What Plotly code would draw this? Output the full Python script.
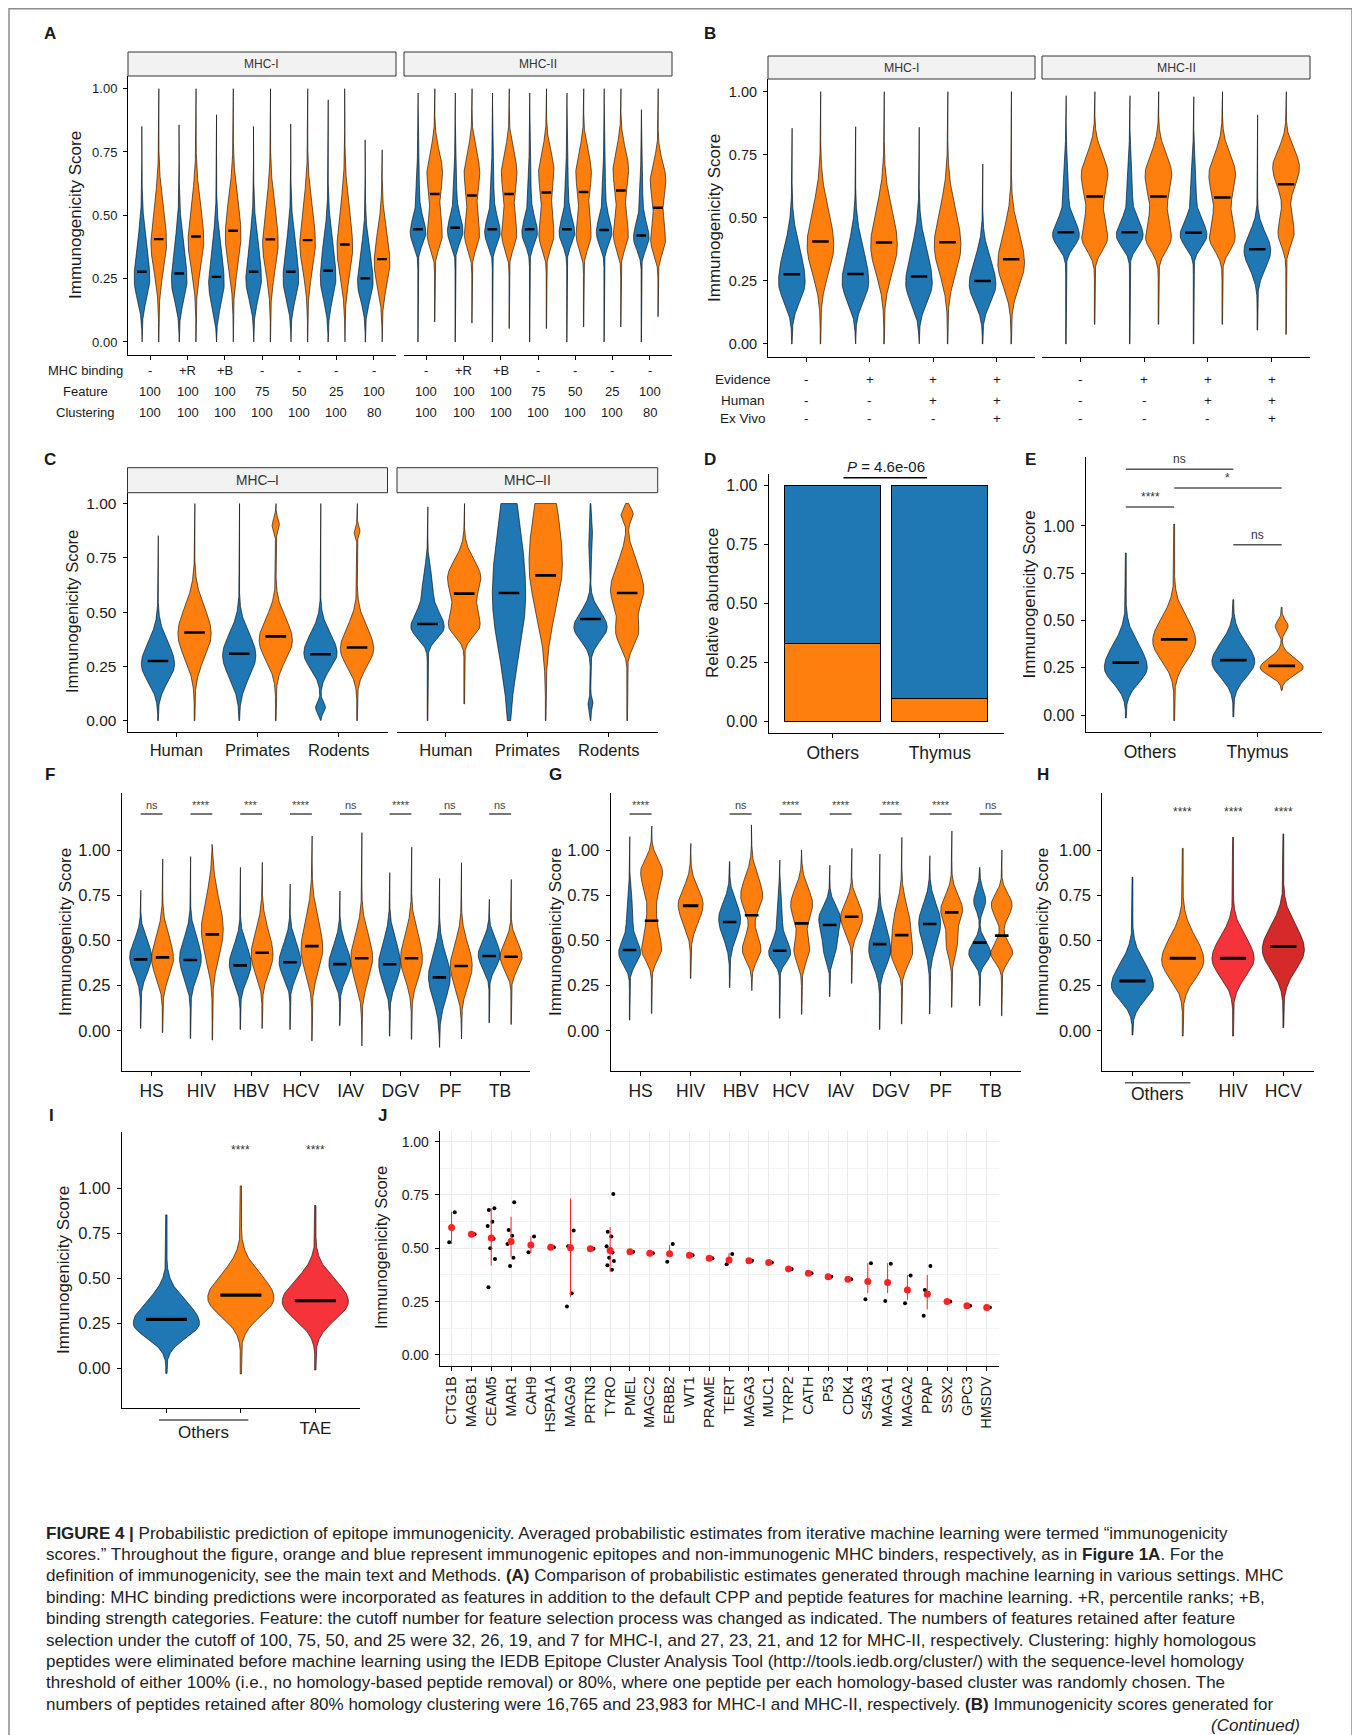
import numpy as np
import plotly.graph_objects as go

# page geometry (the browser body adds an 8px margin; the figure is offset accordingly)
PAGE_W, PAGE_H = 1360, 1735
OX, OY = 8, 8
FW, FH = PAGE_W - OX, PAGE_H - OY
FONT = "Liberation Sans, Arial, Helvetica, sans-serif"
TXT = "#1a1a1a"
BLUE, ORANGE, RED, DRED = "#1F77B4", "#FF7F0E", "#F5333B", "#D42A2A"

# ====================== DATA ======================
# Panel A: settings tables
A_MHC_BINDING = ["-", "+R", "+B", "-", "-", "-", "-"]
A_FEATURE = ["100", "100", "100", "75", "50", "25", "100"]
A_CLUSTERING = ["100", "100", "100", "100", "100", "100", "80"]
# violin specs: (min, max, median, density components (mode, sd_low, sd_high, weight))
A1_BLUE = [
    (0.0, 0.851, 0.277, [(0.245, 0.075, 0.14, 1)]),
    (0.0, 0.857, 0.270, [(0.24, 0.075, 0.14, 1)]),
    (0.0, 0.897, 0.257, [(0.23, 0.08, 0.14, 1)]),
    (0.0, 0.851, 0.277, [(0.245, 0.075, 0.14, 1)]),
    (0.0, 0.861, 0.277, [(0.245, 0.075, 0.14, 1)]),
    (0.0, 0.956, 0.281, [(0.25, 0.08, 0.14, 1)]),
    (0.0, 0.798, 0.251, [(0.235, 0.07, 0.12, 1)]),
]
A1_ORANGE = [
    (0.0, 1.0, 0.406, [(0.39, 0.11, 0.14, 1)]),
    (0.0, 1.0, 0.416, [(0.40, 0.11, 0.14, 1)]),
    (0.0, 1.0, 0.439, [(0.42, 0.12, 0.14, 1)]),
    (0.0, 1.0, 0.405, [(0.39, 0.11, 0.14, 1)]),
    (0.0, 1.0, 0.402, [(0.39, 0.11, 0.14, 1)]),
    (0.0, 1.0, 0.385, [(0.37, 0.11, 0.15, 1)]),
    (0.0, 0.759, 0.327, [(0.31, 0.09, 0.12, 1)]),
]
A2_BLUE = [
    (0.0, 0.983, 0.445, [(0.43, 0.045, 0.06, 1), (0.60, 0.08, 0.10, 0.18)]),
    (0.0, 0.983, 0.451, [(0.435, 0.045, 0.06, 1), (0.60, 0.08, 0.10, 0.18)]),
    (0.0, 0.983, 0.445, [(0.43, 0.045, 0.06, 1), (0.60, 0.08, 0.10, 0.18)]),
    (0.0, 0.983, 0.445, [(0.43, 0.045, 0.06, 1), (0.60, 0.08, 0.10, 0.18)]),
    (0.0, 0.983, 0.445, [(0.43, 0.045, 0.06, 1), (0.60, 0.08, 0.10, 0.18)]),
    (0.0, 1.0, 0.442, [(0.43, 0.045, 0.06, 1), (0.60, 0.08, 0.10, 0.18)]),
    (0.0, 0.917, 0.420, [(0.41, 0.045, 0.06, 1), (0.58, 0.08, 0.09, 0.18)]),
]
A2_ORANGE = [
    (0.079, 1.0, 0.584, [(0.42, 0.05, 0.08, 0.95), (0.67, 0.09, 0.08, 1.0)]),
    (0.075, 1.0, 0.578, [(0.42, 0.05, 0.08, 0.95), (0.67, 0.09, 0.08, 1.0)]),
    (0.053, 1.0, 0.584, [(0.42, 0.05, 0.08, 0.95), (0.67, 0.09, 0.08, 1.0)]),
    (0.053, 1.0, 0.590, [(0.42, 0.05, 0.08, 0.95), (0.67, 0.09, 0.08, 1.0)]),
    (0.059, 1.0, 0.592, [(0.42, 0.05, 0.08, 0.95), (0.67, 0.09, 0.08, 1.0)]),
    (0.059, 1.0, 0.598, [(0.42, 0.05, 0.08, 0.95), (0.68, 0.09, 0.08, 1.0)]),
    (0.100, 1.0, 0.530, [(0.40, 0.05, 0.08, 0.95), (0.64, 0.08, 0.07, 1.0)]),
]

# Panel B
B_EVIDENCE = ["-", "+", "+", "+"]
B_HUMAN = ["-", "-", "+", "+"]
B_EXVIVO = ["-", "-", "-", "+"]
B1_BLUE = [
    (0.0, 0.855, 0.276, [(0.245, 0.075, 0.13, 1)]),
    (0.0, 0.861, 0.277, [(0.245, 0.075, 0.13, 1)]),
    (0.0, 0.859, 0.267, [(0.24, 0.075, 0.13, 1)]),
    (0.0, 0.713, 0.250, [(0.235, 0.07, 0.10, 1)]),
]
B1_ORANGE = [
    (0.0, 1.0, 0.406, [(0.39, 0.11, 0.14, 1)]),
    (0.0, 1.0, 0.402, [(0.39, 0.11, 0.14, 1)]),
    (0.0, 1.0, 0.403, [(0.39, 0.11, 0.14, 1)]),
    (0.0, 1.0, 0.336, [(0.32, 0.09, 0.12, 1)]),
]
B2_BLUE = [
    (0.0, 0.984, 0.443, [(0.43, 0.045, 0.06, 1), (0.62, 0.08, 0.10, 0.2)]),
    (0.0, 0.984, 0.443, [(0.43, 0.045, 0.06, 1), (0.62, 0.08, 0.10, 0.2)]),
    (0.0, 0.980, 0.441, [(0.43, 0.045, 0.06, 1), (0.62, 0.08, 0.10, 0.2)]),
    (0.055, 0.908, 0.375, [(0.37, 0.07, 0.07, 1)]),
]
B2_ORANGE = [
    (0.078, 1.0, 0.584, [(0.42, 0.05, 0.08, 0.95), (0.67, 0.09, 0.08, 1.0)]),
    (0.078, 1.0, 0.584, [(0.42, 0.05, 0.08, 0.95), (0.67, 0.09, 0.08, 1.0)]),
    (0.078, 1.0, 0.580, [(0.42, 0.05, 0.08, 0.95), (0.67, 0.09, 0.08, 1.0)]),
    (0.038, 1.0, 0.633, [(0.44, 0.05, 0.07, 0.6), (0.70, 0.08, 0.07, 1.0)]),
]

# Panel C
C_SPECIES = ["Human", "Primates", "Rodents"]
C1_BLUE = [
    (0.0, 0.852, 0.275, [(0.26, 0.08, 0.10, 1)]),
    (0.0, 1.0, 0.308, [(0.30, 0.10, 0.10, 1)]),
    (0.0, 1.0, 0.306, [(0.31, 0.07, 0.09, 1), (0.06, 0.025, 0.025, 0.3)]),
]
C1_ORANGE = [
    (0.0, 1.0, 0.406, [(0.40, 0.11, 0.12, 1)]),
    (0.0, 1.0, 0.388, [(0.37, 0.09, 0.10, 1), (0.90, 0.03, 0.03, 0.22)]),
    (0.0, 1.0, 0.337, [(0.33, 0.08, 0.10, 1), (0.87, 0.02, 0.02, 0.18)]),
]
C2_BLUE = [
    (0.0, 0.985, 0.445, [(0.43, 0.05, 0.07, 1), (0.62, 0.08, 0.08, 0.3)]),
    (0.0, 1.0, 0.588, [(0.58, 0.27, 0.35, 1)]),
    (0.0, 1.0, 0.468, [(0.43, 0.06, 0.07, 1), (0.08, 0.025, 0.025, 0.15), (0.85, 0.08, 0.08, 0.12)]),
]
C2_ORANGE = [
    (0.077, 1.0, 0.585, [(0.44, 0.05, 0.08, 0.95), (0.66, 0.08, 0.08, 1)]),
    (0.0, 1.0, 0.669, [(0.72, 0.21, 0.30, 1)]),
    (0.0, 1.0, 0.588, [(0.60, 0.09, 0.12, 1), (0.40, 0.06, 0.06, 0.6), (0.95, 0.03, 0.03, 0.35)]),
]

# Panel D
D_GROUPS = ["Others", "Thymus"]
D_IMMUNOGENIC = [0.330, 0.096]
D_NONIMMUNOGENIC = [0.670, 0.904]
D_PVALUE = "4.6e-06"

# Panel E
E_GROUPS = ["Others", "Thymus"]
E_BLUE = [
    (-0.016, 0.857, 0.277, [(0.25, 0.08, 0.12, 1)]),
    (-0.010, 0.610, 0.290, [(0.28, 0.08, 0.10, 1)]),
]
E_ORANGE = [
    (-0.030, 1.010, 0.400, [(0.39, 0.10, 0.12, 1)]),
    (0.130, 0.570, 0.260, [(0.25, 0.04, 0.05, 1), (0.47, 0.03, 0.03, 0.3)]),
]
E_SIG_LABELS = ["ns", "*", "****", "ns"]
E_SIG_FROM = [0.775, 1.225, 0.775, 1.775]
E_SIG_TO = [1.775, 2.225, 1.225, 2.225]
E_SIG_Y = [1.30, 1.20, 1.10, 0.90]

# Panel F / G
PATHOGENS = ["HS", "HIV", "HBV", "HCV", "IAV", "DGV", "PF", "TB"]
F_BLUE = [
    (0.013, 0.780, 0.396, [(0.41, 0.09, 0.09, 1)]),
    (-0.043, 0.967, 0.393, [(0.40, 0.10, 0.11, 1)]),
    (0.007, 0.907, 0.363, [(0.37, 0.09, 0.10, 1)]),
    (0.007, 0.815, 0.380, [(0.38, 0.08, 0.10, 1)]),
    (0.028, 0.776, 0.370, [(0.37, 0.08, 0.10, 1)]),
    (-0.030, 0.878, 0.369, [(0.37, 0.10, 0.12, 1)]),
    (-0.093, 0.846, 0.296, [(0.30, 0.12, 0.12, 1)]),
    (0.044, 0.730, 0.415, [(0.42, 0.07, 0.08, 1)]),
]
F_ORANGE = [
    (-0.011, 0.954, 0.407, [(0.40, 0.10, 0.12, 1)]),
    (-0.052, 1.035, 0.535, [(0.56, 0.15, 0.17, 1)]),
    (0.013, 0.935, 0.433, [(0.42, 0.10, 0.13, 1)]),
    (-0.056, 1.081, 0.470, [(0.45, 0.12, 0.16, 1)]),
    (-0.085, 1.100, 0.402, [(0.40, 0.12, 0.13, 1)]),
    (-0.048, 1.019, 0.402, [(0.40, 0.11, 0.13, 1)]),
    (-0.046, 0.933, 0.359, [(0.36, 0.11, 0.12, 1)]),
    (0.035, 0.840, 0.411, [(0.41, 0.07, 0.08, 1)]),
]
F_SIG = ["ns", "****", "***", "****", "ns", "****", "ns", "ns"]
G_BLUE = [
    (0.059, 1.078, 0.448, [(0.43, 0.06, 0.07, 1), (0.65, 0.10, 0.10, 0.3)]),
    None,
    (0.239, 0.939, 0.604, [(0.62, 0.10, 0.09, 1)]),
    (0.069, 0.948, 0.444, [(0.43, 0.05, 0.07, 1), (0.65, 0.10, 0.10, 0.25)]),
    (0.189, 0.919, 0.587, [(0.62, 0.08, 0.07, 1), (0.45, 0.06, 0.06, 0.5)]),
    (0.007, 0.981, 0.481, [(0.45, 0.09, 0.12, 1)]),
    (0.093, 0.972, 0.593, [(0.60, 0.12, 0.10, 1)]),
    (0.139, 0.907, 0.489, [(0.43, 0.05, 0.06, 1), (0.72, 0.05, 0.06, 0.55)]),
]
G_ORANGE = [
    (0.096, 1.137, 0.611, [(0.88, 0.10, 0.07, 1), (0.45, 0.06, 0.10, 0.9), (0.65, 0.08, 0.08, 0.25)]),
    (0.290, 1.040, 0.694, [(0.70, 0.10, 0.09, 1)]),
    (0.222, 1.143, 0.641, [(0.45, 0.06, 0.08, 0.85), (0.75, 0.08, 0.10, 1)]),
    (0.091, 1.004, 0.596, [(0.45, 0.07, 0.07, 0.7), (0.70, 0.09, 0.09, 1)]),
    (0.263, 1.013, 0.633, [(0.63, 0.08, 0.08, 1)]),
    (0.037, 1.074, 0.531, [(0.43, 0.07, 0.10, 0.9), (0.62, 0.08, 0.10, 0.55)]),
    (0.130, 1.109, 0.657, [(0.67, 0.07, 0.08, 1), (0.48, 0.07, 0.07, 0.5)]),
    (0.083, 1.004, 0.528, [(0.43, 0.05, 0.06, 0.9), (0.70, 0.07, 0.06, 0.85)]),
]
G_SIG = ["****", "", "ns", "****", "****", "****", "****", "ns"]

# Panel H
H_LABELS = ["", "", "HIV", "HCV"]
H_SPECS = [
    (-0.024, 0.852, 0.276, [(0.25, 0.08, 0.12, 1)]),
    (-0.030, 1.013, 0.402, [(0.39, 0.10, 0.13, 1)]),
    (-0.030, 1.074, 0.402, [(0.40, 0.10, 0.12, 1)]),
    (0.017, 1.093, 0.467, [(0.45, 0.11, 0.13, 1)]),
]
H_SIG = ["", "****", "****", "****"]

# Panel I
I_LABELS = ["", "", "TAE"]
I_SPECS = [
    (-0.028, 0.852, 0.272, [(0.25, 0.08, 0.12, 1)]),
    (-0.031, 1.013, 0.407, [(0.39, 0.10, 0.13, 1)]),
    (-0.009, 0.904, 0.376, [(0.37, 0.10, 0.12, 1)]),
]
I_SIG = ["", "****", "****"]

# Panel J
J_GENES = ["CTG1B", "MAGB1", "CEAM5", "MAR1", "CAH9", "HSPA1A", "MAGA9", "PRTN3", "TYRO",
           "PMEL", "MAGC2", "ERBB2", "WT1", "PRAME", "TERT", "MAGA3", "MUC1", "TYRP2",
           "CATH", "P53", "CDK4", "S45A3", "MAGA1", "MAGA2", "PPAP", "SSX2", "GPC3", "HMSDV"]
J_MEAN = [0.597, 0.566, 0.548, 0.532, 0.516, 0.505, 0.503, 0.498, 0.49, 0.484, 0.477, 0.474,
          0.467, 0.453, 0.445, 0.442, 0.434, 0.403, 0.383, 0.367, 0.355, 0.344, 0.34, 0.305,
          0.284, 0.25, 0.231, 0.222]
J_LOW = [0.52, None, 0.419, 0.46, 0.477, None, 0.273, None, 0.39, None, None, 0.46, None, None,
         0.43, None, None, None, None, None, None, 0.29, 0.29, 0.258, 0.214, None, None, None]
J_HIGH = [0.672, None, 0.688, 0.648, 0.555, None, 0.734, None, 0.60, None, None, 0.515, None, None,
          0.477, None, None, None, None, None, None, 0.43, 0.43, 0.375, 0.375, None, None, None]
J_POINTS = [
    [0.669, 0.528], [0.566], [0.688, 0.68, 0.625, 0.605, 0.545, 0.50, 0.45, 0.317],
    [0.716, 0.586, 0.559, 0.52, 0.456, 0.417], [0.555, 0.481], [0.505],
    [0.583, 0.51, 0.289, 0.227], [0.498],
    [0.755, 0.578, 0.555, 0.51, 0.48, 0.456, 0.44, 0.42, 0.40], [0.484], [0.477],
    [0.52, 0.4375], [0.467], [0.453], [0.473, 0.425], [0.442], [0.434], [0.403], [0.383],
    [0.367], [0.355], [0.43, 0.261], [0.427, 0.253], [0.372, 0.242], [0.417, 0.305, 0.29, 0.184],
    [0.25], [0.231], [0.222],
]

SCORE_TICKS = [0.0, 0.25, 0.5, 0.75, 1.0]
SCORE_TEXT = ["0.00", "0.25", "0.50", "0.75", "1.00"]

CAPTION_LINES = [
    "<b>FIGURE 4 |</b> Probabilistic prediction of epitope immunogenicity. Averaged probabilistic estimates from iterative machine learning were termed \u201cimmunogenicity",
    "scores.\u201d Throughout the figure, orange and blue represent immunogenic epitopes and non-immunogenic MHC binders, respectively, as in <b>Figure 1A</b>. For the",
    "definition of immunogenicity, see the main text and Methods. <b>(A)</b> Comparison of probabilistic estimates generated through machine learning in various settings. MHC",
    "binding: MHC binding predictions were incorporated as features in addition to the default CPP and peptide features for machine learning. +R, percentile ranks; +B,",
    "binding strength categories. Feature: the cutoff number for feature selection process was changed as indicated. The numbers of features retained after feature",
    "selection under the cutoff of 100, 75, 50, and 25 were 32, 26, 19, and 7 for MHC-I, and 27, 23, 21, and 12 for MHC-II, respectively. Clustering: highly homologous",
    "peptides were eliminated before machine learning using the IEDB Epitope Cluster Analysis Tool (http://tools.iedb.org/cluster/) with the sequence-level homology",
    "threshold of either 100% (i.e., no homology-based peptide removal) or 80%, where one peptide per each homology-based cluster was randomly chosen. The",
    "numbers of peptides retained after 80% homology clustering were 16,765 and 23,983 for MHC-I and MHC-II, respectively. <b>(B)</b> Immunogenicity scores generated for",
]
CAPTION_END = "<i>(Continued)</i>"

# ====================== FIGURE ======================
fig = go.Figure()
shapes = []
annos = []


def fx(x):
    return (x - OX) / FW


def fy(y):
    return 1 - (y - OY) / FH


def sid(n):
    return "" if n == 1 else str(n)


def add_axes(n, box, xr, yr, ysize, xsize=14, show_y=True, xvals=None, xtext=None,
             yvals=SCORE_TICKS, ytext=SCORE_TEXT, xangle=None, grid=False):
    x0, x1, top, bot = box
    s = sid(n)
    xa = dict(domain=[fx(x0), fx(x1)], range=list(xr), anchor="y" + s, showline=True,
              linecolor="black", linewidth=1, ticks="outside", ticklen=4, tickwidth=1,
              tickcolor="black", zeroline=False, showgrid=grid, gridcolor="#EBEBEB", gridwidth=1,
              tickmode="array", tickvals=xvals, ticktext=xtext,
              showticklabels=xtext is not None,
              tickfont=dict(family=FONT, size=xsize, color=TXT), fixedrange=True)
    if xangle is not None:
        xa["tickangle"] = xangle
    ya = dict(domain=[fy(bot), fy(top)], range=list(yr), anchor="x" + s,
              showline=show_y, linecolor="black", linewidth=1,
              ticks="outside" if show_y else "", ticklen=4, tickwidth=1, tickcolor="black",
              zeroline=False, showgrid=grid, gridcolor="#EBEBEB", gridwidth=1,
              tickmode="array", tickvals=yvals, ticktext=ytext, showticklabels=show_y,
              ticklabelstandoff=3,
              tickfont=dict(family=FONT, size=ysize, color=TXT), fixedrange=True)
    if grid:
        ya["minor"] = dict(tickvals=[0.125, 0.375, 0.625, 0.875], showgrid=True,
                           gridcolor="#F4F4F4", gridwidth=0.8, ticks="")
    fig.update_layout(**{"xaxis" + s: xa, "yaxis" + s: ya})


def violin(n, center, halfw, spec, color, mw=2.6, mfrac=0.62):
    lo, hi, med, comps = spec
    y = np.linspace(lo, hi, 260)
    d = np.zeros_like(y)
    for m, sl, su, a in comps:
        s = np.where(y < m, sl, su)
        d += a * np.exp(-0.5 * ((y - m) / s) ** 2)
    d = d / d.max()
    d = np.maximum(d, 0.02)
    xs = np.concatenate([center + halfw * d, (center - halfw * d)[::-1]])
    ys = np.concatenate([y, y[::-1]])
    xs = np.append(xs, xs[0])
    ys = np.append(ys, ys[0])
    s = sid(n)
    fig.add_trace(go.Scatter(x=xs, y=ys, mode="lines", fill="toself", fillcolor=color,
                             line=dict(color="black", width=0.6), xaxis="x" + s, yaxis="y" + s,
                             hoverinfo="skip", showlegend=False))
    fig.add_trace(go.Scatter(x=[center - mfrac * halfw, center + mfrac * halfw], y=[med, med],
                             mode="lines", line=dict(color="black", width=mw),
                             xaxis="x" + s, yaxis="y" + s, hoverinfo="skip", showlegend=False))


def text(x, y, t, size, xref="paper", yref="paper", xanchor="center", yanchor="middle",
         angle=0, color=TXT, bold=False):
    if xref == "paper":
        x = fx(x)
    if yref == "paper":
        y = fy(y)
    annos.append(dict(x=x, y=y, xref=xref, yref=yref, text=("<b>%s</b>" % t) if bold else t,
                      showarrow=False, xanchor=xanchor, yanchor=yanchor, textangle=angle,
                      font=dict(family=FONT, size=size, color=color)))


def strip(x0, x1, top, bot, label, size):
    shapes.append(dict(type="rect", xref="paper", yref="paper", x0=fx(x0), x1=fx(x1),
                       y0=fy(bot), y1=fy(top), fillcolor="#F2F2F2",
                       line=dict(color="#333333", width=1)))
    text((x0 + x1) / 2, (top + bot) / 2, label, size, color="#333333")


def hline(n, xa, xb, y, color="#666666", width=1.5):
    s = sid(n)
    shapes.append(dict(type="line", xref="x" + s, yref="y" + s, x0=xa, x1=xb, y0=y, y1=y,
                       line=dict(color=color, width=width)))


# ---------- Panel A ----------
A_BOXES = [(128, 396, 76, 354.6), (404, 672, 76, 354.6)]
for k, (blue, orange, lab) in enumerate([(A1_BLUE, A1_ORANGE, "MHC-I"), (A2_BLUE, A2_ORANGE, "MHC-II")]):
    n = 1 + k
    add_axes(n, A_BOXES[k], (0.4, 7.6), (-0.05, 1.05), 13, show_y=(k == 0),
             xvals=list(range(1, 8)))
    for i in range(7):
        violin(n, i + 1 - 0.225, 0.21, blue[i], BLUE, mw=2.4)
        violin(n, i + 1 + 0.225, 0.21, orange[i], ORANGE, mw=2.4)
    strip(A_BOXES[k][0], A_BOXES[k][1], 52, 76, lab, 12)
    for i in range(7):
        text(i + 1, 371, A_MHC_BINDING[i], 13, xref="x" + sid(n))
        text(i + 1, 392, A_FEATURE[i], 13, xref="x" + sid(n))
        text(i + 1, 412, A_CLUSTERING[i], 13, xref="x" + sid(n))
text(85, 371, "MHC binding", 13)
text(85, 392, "Feature", 13)
text(85, 412, "Clustering", 13)
text(75, 215, "Immunogenicity Score", 17, angle=-90)
text(50, 33, "A", 17, bold=True)

# ---------- Panel B ----------
B_BOXES = [(768, 1035, 79, 356.6), (1042, 1310, 79, 356.6)]
for k, (blue, orange, lab) in enumerate([(B1_BLUE, B1_ORANGE, "MHC-I"), (B2_BLUE, B2_ORANGE, "MHC-II")]):
    n = 3 + k
    add_axes(n, B_BOXES[k], (0.4, 4.6), (-0.05, 1.05), 14.5, show_y=(k == 0),
             xvals=list(range(1, 5)))
    for i in range(4):
        violin(n, i + 1 - 0.225, 0.21, blue[i], BLUE, mw=2.5)
        violin(n, i + 1 + 0.225, 0.21, orange[i], ORANGE, mw=2.5)
    strip(B_BOXES[k][0], B_BOXES[k][1], 56, 79, lab, 12.3)
    for i in range(4):
        text(i + 1, 379, B_EVIDENCE[i], 13.5, xref="x" + sid(n))
        text(i + 1, 400, B_HUMAN[i], 13.5, xref="x" + sid(n))
        text(i + 1, 419, B_EXVIVO[i], 13.5, xref="x" + sid(n))
text(743, 379, "Evidence", 13.5)
text(743, 400, "Human", 13.5)
text(743, 419, "Ex Vivo", 13.5)
text(715, 218, "Immunogenicity Score", 17, angle=-90)
text(710, 33, "B", 17, bold=True)

# ---------- Panel C ----------
C_BOXES = [(127.5, 387.5, 492.7, 731.5), (397, 657.7, 492.7, 731.5)]
for k, (blue, orange, lab) in enumerate([(C1_BLUE, C1_ORANGE, "MHC\u2013I"), (C2_BLUE, C2_ORANGE, "MHC\u2013II")]):
    n = 5 + k
    add_axes(n, C_BOXES[k], (0.4, 3.6), (-0.05, 1.05), 15.5, xsize=16.5, show_y=(k == 0),
             xvals=[1, 2, 3], xtext=C_SPECIES)
    for i in range(3):
        violin(n, i + 1 - 0.225, 0.205, blue[i], BLUE, mw=2.6)
        violin(n, i + 1 + 0.225, 0.205, orange[i], ORANGE, mw=2.6)
    strip(C_BOXES[k][0], C_BOXES[k][1], 467.7, 492.7, lab, 13.8)
text(72, 612, "Immunogenicity Score", 16.5, angle=-90)
text(50, 460, "C", 17, bold=True)

# ---------- Panel D ----------
add_axes(7, (768.5, 1004, 473.9, 732.8), (0.4, 2.6), (-0.05, 1.05), 16, xsize=17.5,
         xvals=[1, 2], xtext=D_GROUPS)
fig.add_trace(go.Bar(x=[1, 2], y=D_IMMUNOGENIC, width=0.9, marker=dict(color=ORANGE, line=dict(color="black", width=1)),
                     xaxis="x7", yaxis="y7", showlegend=False, hoverinfo="skip"))
fig.add_trace(go.Bar(x=[1, 2], y=D_NONIMMUNOGENIC, width=0.9, marker=dict(color=BLUE, line=dict(color="black", width=1)),
                     xaxis="x7", yaxis="y7", showlegend=False, hoverinfo="skip"))
hline(7, 1.1, 1.88, 1.034, color="black", width=1.5)
annos.append(dict(x=1.5, y=fy(466), xref="x7", yref="paper", text="<i>P</i> = " + D_PVALUE,
                  showarrow=False, xanchor="center", yanchor="middle",
                  font=dict(family=FONT, size=15, color=TXT)))
text(712, 603, "Relative abundance", 17, angle=-90)
text(710, 460, "D", 17, bold=True)

# ---------- Panel E ----------
add_axes(8, (1085.5, 1322, 456.7, 732.3), (0.4, 2.6), (-0.0915, 1.366), 16, xsize=17.5,
         xvals=[1, 2], xtext=E_GROUPS)
for i in range(2):
    violin(8, i + 1 - 0.225, 0.2, E_BLUE[i], BLUE, mw=2.8)
    violin(8, i + 1 + 0.225, 0.2, E_ORANGE[i], ORANGE, mw=2.8)
for lab, a, b, yv in zip(E_SIG_LABELS, E_SIG_FROM, E_SIG_TO, E_SIG_Y):
    hline(8, a, b, yv, color="#555555", width=1.5)
    annos.append(dict(x=(a + b) / 2, y=yv + 0.005, xref="x8", yref="y8", text=lab, showarrow=False,
                      xanchor="center", yanchor="bottom",
                      font=dict(family=FONT, size=12, color="#333333")))
text(1029, 594.5, "Immunogenicity Score", 17, angle=-90)
text(1030, 460, "E", 17, bold=True)

# ---------- Panels F and G ----------
for n, box, blue, orange, sig, xt, lab, lx in [
        (9, (121.7, 530, 793, 1070.7), F_BLUE, F_ORANGE, F_SIG, 65, "F", 50),
        (10, (610.6, 1020.7, 793, 1070.7), G_BLUE, G_ORANGE, G_SIG, 555, "G", 555)]:
    add_axes(n, box, (0.4, 8.6), (-0.222, 1.32), 16.5, xsize=17.5,
             xvals=list(range(1, 9)), xtext=PATHOGENS)
    for i in range(8):
        if blue[i] is None:
            violin(n, i + 1, 0.25, orange[i], ORANGE, mw=2.8)
        else:
            violin(n, i + 1 - 0.22, 0.22, blue[i], BLUE, mw=2.6)
            violin(n, i + 1 + 0.22, 0.22, orange[i], ORANGE, mw=2.6)
        if sig[i]:
            hline(n, i + 1 - 0.22, i + 1 + 0.22, 1.204, color="#777777", width=2)
            annos.append(dict(x=i + 1, y=1.21, xref="x" + sid(n), yref="y" + sid(n), text=sig[i],
                              showarrow=False, xanchor="center", yanchor="bottom",
                              font=dict(family=FONT, size=11, color="#444444")))
    text(xt, 932, "Immunogenicity Score", 17, angle=-90)
    text(lx, 775, lab, 17, bold=True)

# ---------- Panel H ----------
add_axes(11, (1102.3, 1313.5, 793, 1070.7), (0.4, 4.6), (-0.222, 1.32), 16.5, xsize=17.5,
         xvals=[1, 2, 3, 4], xtext=H_LABELS)
for i, col in enumerate([BLUE, ORANGE, RED, DRED]):
    violin(11, i + 1, 0.42, H_SPECS[i], col, mw=3)
    if H_SIG[i]:
        annos.append(dict(x=i + 1, y=1.217, xref="x11", yref="y11", text=H_SIG[i], showarrow=False,
                          xanchor="center", yanchor="middle",
                          font=dict(family=FONT, size=12, color="#333333")))
shapes.append(dict(type="line", xref="x11", yref="paper", x0=0.85, x1=2.15, y0=fy(1082.7), y1=fy(1082.7),
                   line=dict(color="#555555", width=1.5)))
annos.append(dict(x=1.5, y=fy(1094), xref="x11", yref="paper", text="Others", showarrow=False,
                  xanchor="center", yanchor="middle",
                  font=dict(family=FONT, size=17.5, color=TXT)))
text(1042, 932, "Immunogenicity Score", 17, angle=-90)
text(1043, 775, "H", 17, bold=True)

# ---------- Panel I ----------
add_axes(12, (121.7, 360, 1131.7, 1408.3), (0.4, 3.6), (-0.222, 1.314), 16.5, xsize=17,
         xvals=[1, 2, 3], xtext=I_LABELS)
for i, col in enumerate([BLUE, ORANGE, RED]):
    violin(12, i + 1, 0.445, I_SPECS[i], col, mw=3.2)
    if I_SIG[i]:
        annos.append(dict(x=i + 1, y=1.213, xref="x12", yref="y12", text=I_SIG[i], showarrow=False,
                          xanchor="center", yanchor="middle",
                          font=dict(family=FONT, size=12, color="#333333")))
shapes.append(dict(type="line", xref="x12", yref="paper", x0=0.9, x1=2.1, y0=fy(1420), y1=fy(1420),
                   line=dict(color="#555555", width=1.5)))
annos.append(dict(x=1.5, y=fy(1432), xref="x12", yref="paper", text="Others", showarrow=False,
                  xanchor="center", yanchor="middle",
                  font=dict(family=FONT, size=17, color=TXT)))
text(63, 1270, "Immunogenicity Score", 17, angle=-90)
text(51, 1115, "I", 17, bold=True)

# ---------- Panel J ----------
add_axes(13, (439.7, 998.6, 1131, 1365.6), (0.4, 28.6), (-0.05, 1.05), 14, xsize=14.5,
         xvals=list(range(1, 29)), xtext=J_GENES, xangle=-90, grid=True)
JIT = [0.16, -0.12, 0.06, -0.18, 0.12, -0.05, 0.19, -0.14, 0.09]
px_, py_ = [], []
for i, pts in enumerate(J_POINTS):
    for j, v in enumerate(pts):
        px_.append(i + 1 + JIT[j % len(JIT)])
        py_.append(v)
fig.add_trace(go.Scatter(x=px_, y=py_, mode="markers", marker=dict(color="black", size=4),
                         xaxis="x13", yaxis="y13", showlegend=False, hoverinfo="skip"))
err_up = [(h - m) if h is not None else 0 for h, m in zip(J_HIGH, J_MEAN)]
err_dn = [(m - l) if l is not None else 0 for l, m in zip(J_LOW, J_MEAN)]
fig.add_trace(go.Scatter(x=list(range(1, 29)), y=J_MEAN, mode="markers",
                         marker=dict(color="#FF2323", size=7),
                         error_y=dict(type="data", symmetric=False, array=err_up, arrayminus=err_dn,
                                      color="#FF2323", thickness=1, width=0),
                         xaxis="x13", yaxis="y13", showlegend=False, hoverinfo="skip"))
text(381, 1248, "Immunogenicity Score", 16.5, angle=-90)
text(382, 1115, "J", 17, bold=True)

# ---------- Caption ----------
CAP_TOP, CAP_STEP = 1533, 21.4
for i, line in enumerate(CAPTION_LINES):
    text(44, CAP_TOP + CAP_STEP * i, line, 17, xanchor="left", color="#222222")
text(1302, CAP_TOP + CAP_STEP * 9, CAPTION_END, 17, xanchor="right", color="#222222")

# frame
shapes.append(dict(type="rect", xref="paper", yref="paper", x0=fx(9), x1=fx(1352), y0=fy(1760), y1=fy(8.8),
                   line=dict(color="#8C8C8C", width=1.5), fillcolor="rgba(0,0,0,0)"))

fig.update_layout(width=FW, height=FH, margin=dict(l=0, r=0, t=0, b=0), paper_bgcolor="white",
                  plot_bgcolor="white", showlegend=False, barmode="stack", bargap=0.1,
                  shapes=shapes, annotations=annos, font=dict(family=FONT, color=TXT))
fig.write_html("out.html")
